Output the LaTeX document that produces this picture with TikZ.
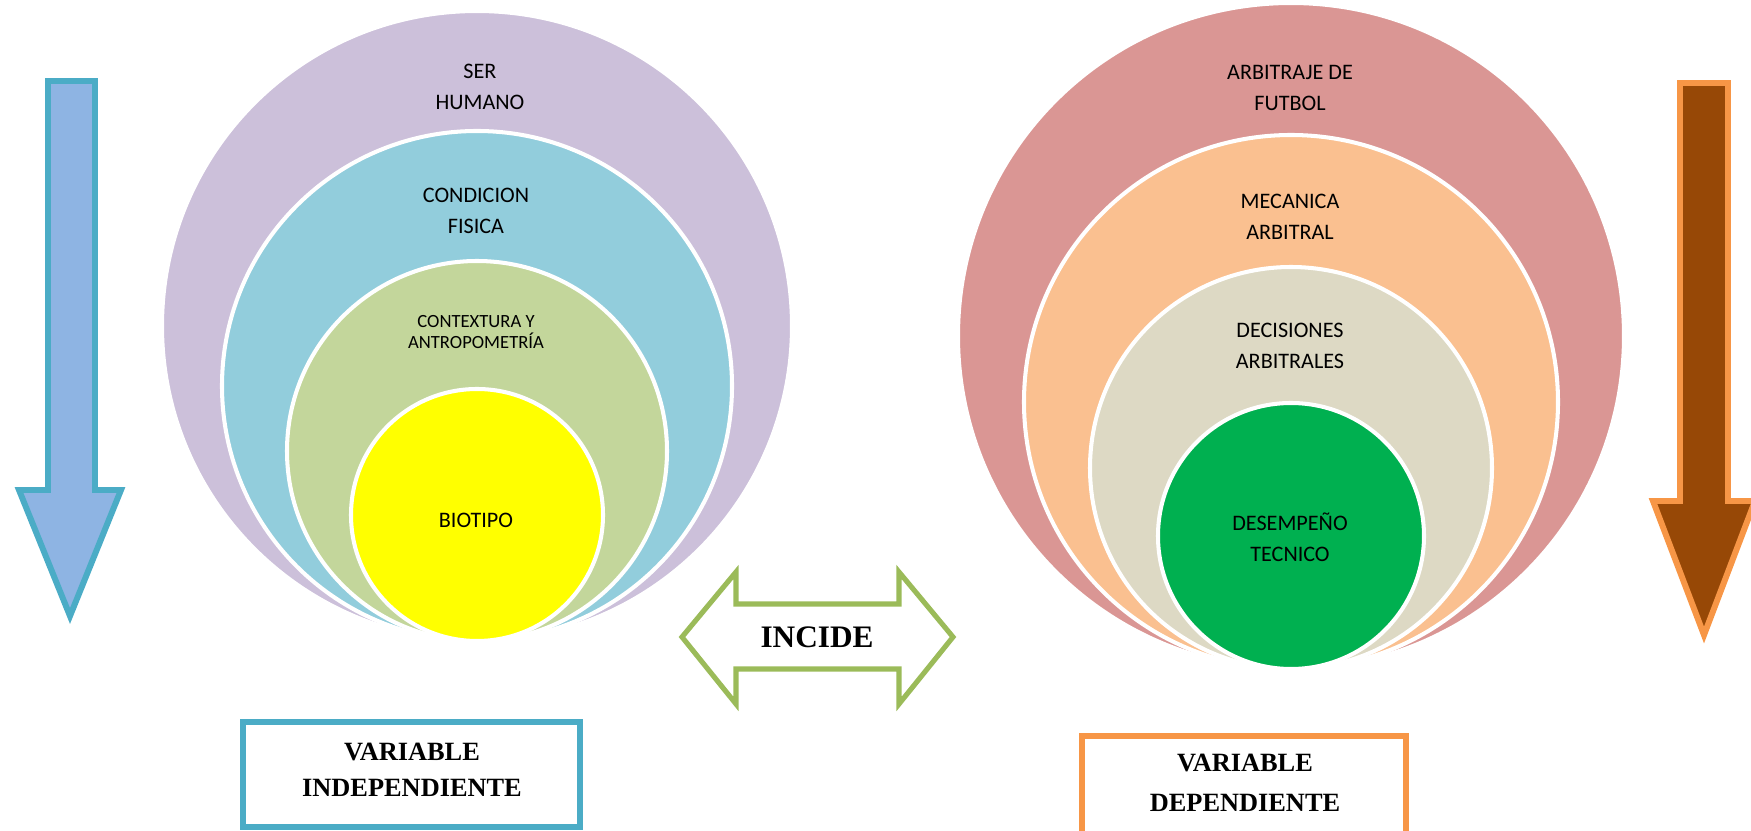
\documentclass[tikz,border=0pt]{standalone}
\usepackage{fontspec}
\setmainfont{Liberation Serif}
\newfontfamily\carlito{Carlito}
\usepackage{tikz}
\usetikzlibrary{calc}
\definecolor{serC}{HTML}{CCC0DA}
\definecolor{condC}{HTML}{92CDDC}
\definecolor{contC}{HTML}{C3D69B}
\definecolor{bioC}{HTML}{FFFF00}
\definecolor{arbC}{HTML}{DA9694}
\definecolor{mecC}{HTML}{FAC090}
\definecolor{decC}{HTML}{DDD9C4}
\definecolor{desC}{HTML}{00B050}
\definecolor{indepLine}{HTML}{4BACC6}
\definecolor{indepFill}{HTML}{8EB4E3}
\definecolor{depLine}{HTML}{F79646}
\definecolor{depFill}{HTML}{974806}
\definecolor{incLine}{HTML}{9BBB59}
% centre x and touching point (bottom) of the two venn stacks
\newcommand{\lcx}{4.77}
\newcommand{\lby}{1.90}
\newcommand{\rcx}{12.91}
\newcommand{\rby}{1.62}
\tikzset{%
  ring/.style={fill=#1, draw=white, line width=1.15pt}}
\tikzset{%
  ringtext/.style={align=center, inner sep=0mm, text=black,
    font=\carlito\fontsize{6.3}{8.9}\selectfont}}
\tikzset{%
  blockarrow/.style={line width=1.7pt, line join=miter, miter limit=20}}
\tikzset{%
  vartext/.style={align=center, inner sep=0mm,
    font=\bfseries\fontsize{7.5}{10.4}\selectfont}}

\begin{document}
\begin{tikzpicture}
\useasboundingbox (0,0) rectangle (17.51,8.31);

% left stack
\filldraw[ring=serC] (\lcx,{\lby+3.15}) circle (3.15);
\filldraw[ring=condC] (\lcx,{\lby+2.55}) circle (2.55);
\filldraw[ring=contC] (\lcx,{\lby+1.90}) circle (1.90);
\filldraw[ring=bioC] (\lcx,{\lby+1.26}) circle (1.26);

\node[ringtext] (serHumano) at (4.80,7.44) {SER\\HUMANO};
\node[ringtext] (condFisica) at (4.76,6.20) {CONDICION\\FISICA};
\node[ringtext,font=\carlito\fontsize{5.3}{6.1}\selectfont] (contextura) at (4.76,4.99) {CONTEXTURA Y\\ANTROPOMETRÍA};
\node[ringtext] (biotipo) at (4.76,3.11) {BIOTIPO};

% right stack
\filldraw[ring=arbC] (\rcx,{\rby+3.33}) circle (3.33);
\filldraw[ring=mecC] (\rcx,{\rby+2.67}) circle (2.67);
\filldraw[ring=decC] (\rcx,{\rby+2.01}) circle (2.01);
\filldraw[ring=desC] (\rcx,{\rby+1.33}) circle (1.33);

\node[ringtext] (arbitraje) at (12.90,7.43) {ARBITRAJE DE\\FUTBOL};
\node[ringtext] (mecanica) at (12.90,6.14) {MECANICA\\ARBITRAL};
\node[ringtext] (decisiones) at (12.90,4.85) {DECISIONES\\ARBITRALES};
\node[ringtext] (desempeno) at (12.90,2.94) {DESEMPEÑO\\TECNICO};

% down arrows
\filldraw[blockarrow, draw=indepLine, fill=indepFill] (0.48,7.50) -- (0.95,7.50) -- (0.95,3.41) -- (1.21,3.41) -- (0.70,2.15) -- (0.19,3.41) -- (0.48,3.41) -- cycle;
\filldraw[blockarrow, draw=depLine, fill=depFill] (16.80,7.48) -- (17.28,7.48) -- (17.28,3.30) -- (17.55,3.30) -- (17.04,1.96) -- (16.53,3.30) -- (16.80,3.30) -- cycle;

% incide
\draw[line width=1.45pt, line join=miter, miter limit=20, draw=incLine] (6.82,1.94) -- (7.36,2.59) -- (7.36,2.27) -- (8.99,2.27) -- (8.99,2.59) -- (9.53,1.94) -- (8.99,1.27) -- (8.99,1.62) -- (7.36,1.62) -- (7.36,1.27) -- cycle;
\node[inner sep=0mm, font=\bfseries\fontsize{8.9}{10}\selectfont] (incide) at (8.17,1.94) {INCIDE};

% variable boxes
\draw[line width=1.8pt, draw=indepLine] (2.43,1.09) rectangle (5.80,0.04);
\node[vartext] (varIndep) at (4.12,0.61) {VARIABLE\\INDEPENDIENTE};
\draw[line width=1.8pt, draw=depLine] (10.82,0.95) rectangle (14.06,-0.2);
\node[vartext, font=\bfseries\fontsize{7.5}{11.2}\selectfont] (varDep) at (12.45,0.48) {VARIABLE\\DEPENDIENTE};

\end{tikzpicture}
\end{document}
